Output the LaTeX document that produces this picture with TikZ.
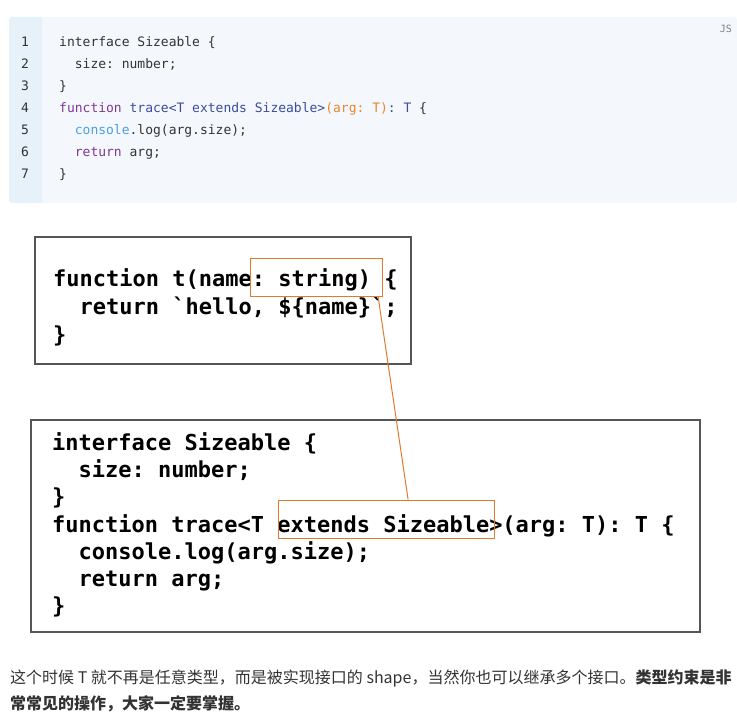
\documentclass[tikz,border=0pt]{standalone}
\usepackage{fontspec}
\setmonofont{DejaVu Sans Mono}
\newfontfamily\cjk{Noto Sans CJK SC}
\usetikzlibrary{calc}
\definecolor{codebg}{HTML}{F4F8FC}
\definecolor{gutterbg}{HTML}{E6F1FA}
\definecolor{kwpurple}{HTML}{7E3A92}
\definecolor{fnblue}{HTML}{3D4C9C}
\definecolor{argorange}{HTML}{E8862E}
\definecolor{consblue}{HTML}{4A9FE0}
\definecolor{codegray}{HTML}{333333}
\definecolor{sketchgray}{HTML}{555555}
\definecolor{hlorange}{HTML}{E07A30}
\tikzset{
  codeline/.style={anchor=base west, inner sep=0pt, font=\ttfamily\fontsize{13}{13}\selectfont, text=codegray},
  lineno/.style={anchor=base, inner sep=0pt, font=\ttfamily\fontsize{13}{13}\selectfont, text=codegray},
  bigcode/.style={anchor=base west, inner sep=0pt, font=\ttfamily\bfseries\fontsize{22}{22}\selectfont, text=black},
  hlbox/.style={draw=hlorange, line width=1.2pt, inner sep=0pt, anchor=north west},
  prose/.style={anchor=base west, inner sep=0pt, font=\cjk\fontsize{16}{16}\selectfont, text=codegray}
}
\begin{document}
\begin{tikzpicture}[x=1pt,y=-1pt]
\useasboundingbox (0,0) rectangle (737,722);
% code block background
\fill[codebg, rounded corners=3pt] (9,17) rectangle (737,203);
\fill[gutterbg, rounded corners=3pt] (9,17) rectangle (42,203);
\fill[gutterbg] (30,17) rectangle (42,203);
\node[anchor=base east, inner sep=0pt, font=\ttfamily\fontsize{10}{10}\selectfont, text=gray] (js) at (732,33) {JS};
% line numbers
\foreach \n [count=\i from 0] in {1,...,7} {
  \node[lineno] (ln\n) at (25,{47+22*\i}) {\n};
}
\node[codeline] (c1) at (59,47) {interface Sizeable \{};
\node[codeline] (c2) at (59,69) {\ \ size: number;};
\node[codeline] (c3) at (59,91) {\}};
\node[codeline] (c4) at (59,113) {\textcolor{kwpurple}{function} \textcolor{fnblue}{trace<T extends Sizeable>}\textcolor{argorange}{(arg: T)}\textcolor{fnblue}{: T} \{};
\node[codeline] (c5) at (59,135) {\ \ \textcolor{consblue}{console}.log(arg.size);};
\node[codeline] (c6) at (59,157) {\ \ \textcolor{kwpurple}{return} arg;};
\node[codeline] (c7) at (59,179) {\}};
% box 1
\draw[sketchgray, line width=1.3pt] (35,237) -- (411,237) -- (411,364) -- (35,364) -- cycle;
\node[bigcode] (b1l1) at (53,287) {function t(name: string) \{};
\node[bigcode] (b1l2) at (53,315) {\ \ return `hello, \$\{name\}`;};
\node[bigcode] (b1l3) at (53,343) {\}};
% box 2
\draw[sketchgray, line width=1.3pt] (31,420) -- (700,420) -- (700,632) -- (31,632) -- cycle;
\node[bigcode] (b2l1) at (52,450) {interface Sizeable \{};
\node[bigcode] (b2l2) at (52,477) {\ \ size: number;};
\node[bigcode] (b2l3) at (52,504) {\}};
\node[bigcode] (b2l4) at (52,532) {function trace<T extends Sizeable>(arg: T): T \{};
\node[bigcode] (b2l5) at (52,559) {\ \ console.log(arg.size);};
\node[bigcode] (b2l6) at (52,586) {\ \ return arg;};
\node[bigcode] (b2l7) at (52,613) {\}};
% highlight boxes
\node[hlbox, minimum width=132pt, minimum height=38pt] (ob1) at (250,258) {};
\node[hlbox, minimum width=216pt, minimum height=38pt] (ob2) at (277.5,499.5) {};
\draw[hlorange, line width=1pt] ($(ob1.south east)+(-5,0)$) -- ($(ob2.north)+(22,0)$);
% prose
\node[prose] (p1) at (10,683) {这个时候 T 就不再是任意类型，而是被实现接口的 shape，当然你也可以继承多个接口。\textbf{类型约束是非}};
\node[prose] (p2) at (10,709) {\textbf{常常见的操作，大家一定要掌握。}};
\end{tikzpicture}
\end{document}
